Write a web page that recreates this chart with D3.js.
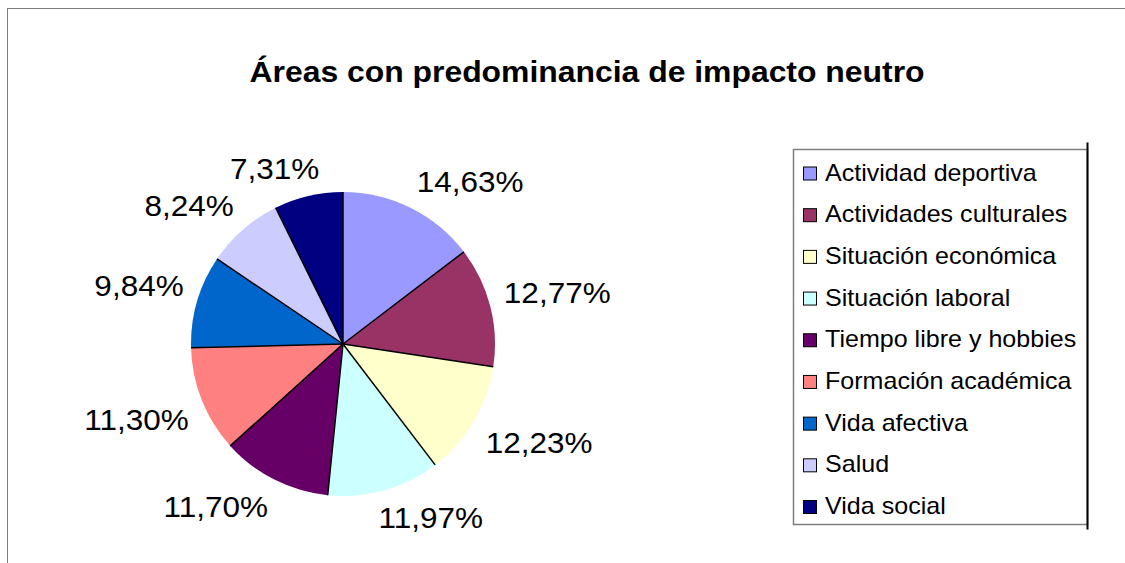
<!DOCTYPE html>
<html>
<head>
<meta charset="utf-8">
<script src="https://cdn.jsdelivr.net/npm/d3@7"></script>
<style>
  body { margin: 0; background: #fff; }
  text { font-family: "Liberation Sans", Arial, sans-serif; fill: #000; }
</style>
</head>
<body>
<div id="chart"></div>
<script>
const categories = [
  "Actividad deportiva",
  "Actividades culturales",
  "Situación económica",
  "Situación laboral",
  "Tiempo libre y hobbies",
  "Formación académica",
  "Vida afectiva",
  "Salud",
  "Vida social",
];
const values = [14.63, 12.77, 12.23, 11.97, 11.7, 11.3, 9.84, 8.24, 7.31];
const colors = [
  "#9999FF", "#993366", "#FFFFCC", "#CCFFFF", "#660066",
  "#FF8080", "#0066CC", "#CCCCFF", "#000080",
];
const title = "Áreas con predominancia de impacto neutro";

const width = 1125, height = 563;

const svg = d3
  .select("#chart")
  .append("svg")
  .attr("width", width)
  .attr("height", height);

// chart area border (runs off the right and bottom)
svg.append("rect")
  .attr("x", 7.5).attr("y", 8.5)
  .attr("width", 1200).attr("height", 600)
  .attr("fill", "#fff")
  .attr("stroke", "#7f7f7f")
  .attr("stroke-width", 1);

// the original text is drawn a bit wide, hence the x scale
svg.append("g")
  .attr("transform", "translate(587,82) scale(1.1,1)")
  .append("text")
  .attr("text-anchor", "middle")
  .style("font-size", "29px")
  .style("font-weight", "bold")
  .text(title);

// pie
const cx = 343, cy = 344, radius = 152;
const data = categories.map((c, i) => ({ name: c, value: values[i], color: colors[i] }));
const pie = d3.pie().sort(null).value((d) => d.value);
const arcs = pie(data);
const arc = d3.arc().innerRadius(0).outerRadius(radius);

const g = svg.append("g").attr("transform", `translate(${cx},${cy})`);

g.selectAll(".slice")
  .data(arcs)
  .enter()
  .append("path")
  .attr("class", "slice")
  .attr("d", arc)
  .attr("fill", (d) => d.data.color);

g.selectAll(".sep")
  .data(arcs)
  .enter()
  .append("line")
  .attr("class", "sep")
  .attr("x1", 0).attr("y1", 0)
  .attr("x2", (d) => d3.pointRadial(d.startAngle, radius)[0])
  .attr("y2", (d) => d3.pointRadial(d.startAngle, radius)[1])
  .attr("stroke", "#000")
  .attr("stroke-width", 1.5);

// percentage labels outside the slices
const fmt = (v) => v.toFixed(2).replace(".", ",") + "%";
const labelR = 166, k = 3, labelH = 28, labelStretch = 1.05;
const clamp = (t) => Math.max(-1, Math.min(1, t));

const labels = g.selectAll(".lab")
  .data(arcs)
  .enter()
  .append("g")
  .attr("class", "lab");

labels.append("text")
  .attr("text-anchor", "middle")
  .attr("dy", "0.35em")
  .style("font-size", "30px")
  .text((d) => fmt(d.data.value));

labels.attr("transform", function (d) {
  const a = (d.startAngle + d.endAngle) / 2;
  const p = d3.pointRadial(a, labelR);
  const w = d3.select(this).select("text").node().getComputedTextLength() * labelStretch;
  const x = p[0] + (w / 2) * clamp(k * Math.sin(a));
  const y = p[1] - (labelH / 2) * clamp(k * Math.cos(a));
  return `translate(${x},${y}) scale(${labelStretch},1)`;
});

// legend
const lx = 793.5, ly = 149.5, lw = 294, lh = 375;
const legend = svg.append("g");
legend.append("rect")
  .attr("x", lx).attr("y", ly)
  .attr("width", lw).attr("height", lh)
  .attr("fill", "#fff")
  .attr("stroke", "#7f7f7f")
  .attr("stroke-width", 1.5);
legend.append("line")
  .attr("x1", lx + lw).attr("x2", lx + lw)
  .attr("y1", ly - 7).attr("y2", ly + lh + 5)
  .attr("stroke", "#000")
  .attr("stroke-width", 2);

const rowY = d3.scalePoint()
  .domain(categories)
  .range([180.5, 514])
  .padding(0);

const rows = legend.selectAll(".row")
  .data(data)
  .enter()
  .append("g")
  .attr("class", "row")
  .attr("transform", (d) => `translate(0,${rowY(d.name)})`);

rows.append("rect")
  .attr("x", 803.5).attr("y", -13.5)
  .attr("width", 13).attr("height", 13)
  .attr("fill", (d) => d.color)
  .attr("stroke", "#000")
  .attr("stroke-width", 1);

rows.append("g")
  .attr("transform", "translate(825,0) scale(1.09,1)")
  .append("text")
  .style("font-size", "23px")
  .text((d) => d.name);
</script>
</body>
</html>
